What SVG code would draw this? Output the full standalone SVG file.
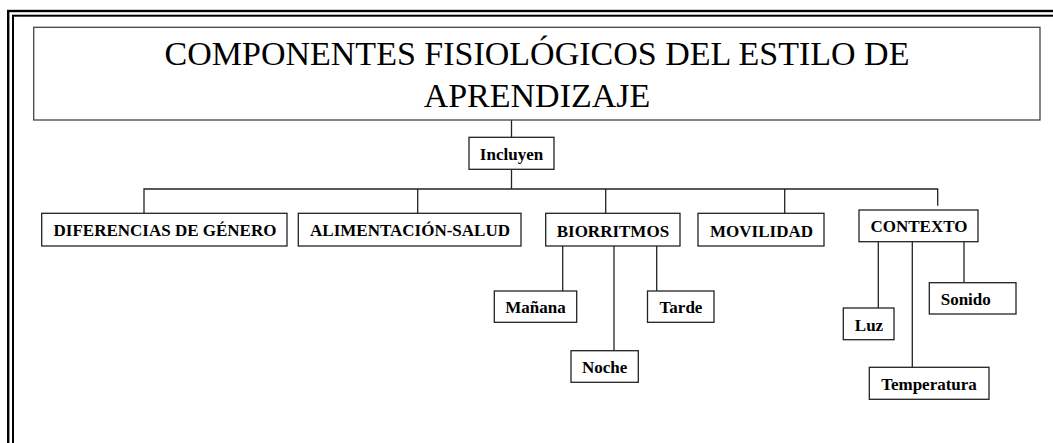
<svg xmlns="http://www.w3.org/2000/svg" width="1053" height="443" viewBox="0 0 1053 443">
<style>
.frame{fill:none;stroke:#000}
.box{fill:#fff;stroke:#222;stroke-width:1.3}
.title{fill:#fff;stroke:#444;stroke-width:1.3}
.t{font-family:"Liberation Serif","Times New Roman",serif;font-weight:bold;font-size:17px;fill:#000;text-anchor:middle}
.tt{font-family:"Liberation Serif","Times New Roman",serif;font-size:34px;fill:#000;text-anchor:middle}
.ln{fill:none;stroke:#222;stroke-width:1.3}
</style>
<rect width="1053" height="443" fill="#fff"/>
<g id="frame">
<rect class="frame" x="8.2" y="11" width="1100" height="500" stroke-width="2.4"/>
<rect class="frame" x="13" y="15.7" width="1100" height="500" stroke-width="2"/>
</g>
<g id="connectors">
<path class="ln" d="M511.5 120V137.3"/>
<path class="ln" d="M511.5 169.3V189"/>
<path class="ln" d="M144 213.3V189H937.7V205.7"/>
<path class="ln" d="M417.7 189V213.3"/>
<path class="ln" d="M605.7 189V213.3"/>
<path class="ln" d="M784.7 189V213.3"/>
<path class="ln" d="M562.7 246V291"/>
<path class="ln" d="M614 246V350.7"/>
<path class="ln" d="M656.7 246V291"/>
<path class="ln" d="M878.3 241.7V308"/>
<path class="ln" d="M912.3 241.7V367.3"/>
<path class="ln" d="M964 241.7V282.7"/>
</g>
<g id="title">
<rect class="title" x="33.7" y="27.3" width="1006.3" height="92.7"/>
<text class="tt" x="537" y="65">COMPONENTES FISIOLÓGICOS DEL ESTILO DE</text>
<text class="tt" x="537" y="107">APRENDIZAJE</text>
</g>
<g id="incluyen">
<rect class="box" x="469" y="137.3" width="85" height="32"/>
<text class="t" x="511.5" y="160">Incluyen</text>
</g>
<g id="diferencias">
<rect class="box" x="41.7" y="213.3" width="245.3" height="32.7"/>
<text class="t" x="165" y="236">DIFERENCIAS DE GÉNERO</text>
</g>
<g id="alimentacion">
<rect class="box" x="298.3" y="213.3" width="222.7" height="32.7"/>
<text class="t" x="410" y="236">ALIMENTACIÓN-SALUD</text>
</g>
<g id="biorritmos">
<rect class="box" x="545.7" y="213.3" width="134.3" height="32.7"/>
<text class="t" x="612.9" y="236.5">BIORRITMOS</text>
</g>
<g id="movilidad">
<rect class="box" x="698" y="213.3" width="126" height="32.7"/>
<text class="t" x="761.5" y="236.5">MOVILIDAD</text>
</g>
<g id="contexto">
<rect class="box" x="859" y="210" width="119" height="31.7"/>
<text class="t" x="919" y="231.7">CONTEXTO</text>
</g>
<g id="manana">
<rect class="box" x="494.3" y="291" width="82.4" height="31.3"/>
<text class="t" x="535.5" y="312.7">Mañana</text>
</g>
<g id="noche">
<rect class="box" x="571" y="350.7" width="67.3" height="31.6"/>
<text class="t" x="604.7" y="372.7">Noche</text>
</g>
<g id="tarde">
<rect class="box" x="647.5" y="291" width="66.5" height="31.3"/>
<text class="t" x="681" y="312.7">Tarde</text>
</g>
<g id="luz">
<rect class="box" x="843.3" y="308" width="50.7" height="31.7"/>
<text class="t" x="869" y="330.7">Luz</text>
</g>
<g id="temperatura">
<rect class="box" x="869.3" y="367.3" width="119.7" height="32"/>
<text class="t" x="929" y="390">Temperatura</text>
</g>
<g id="sonido">
<rect class="box" x="929.3" y="282.7" width="86.7" height="31.3"/>
<text class="t" x="940.7" y="305" style="text-anchor:start">Sonido</text>
</g>
</svg>
